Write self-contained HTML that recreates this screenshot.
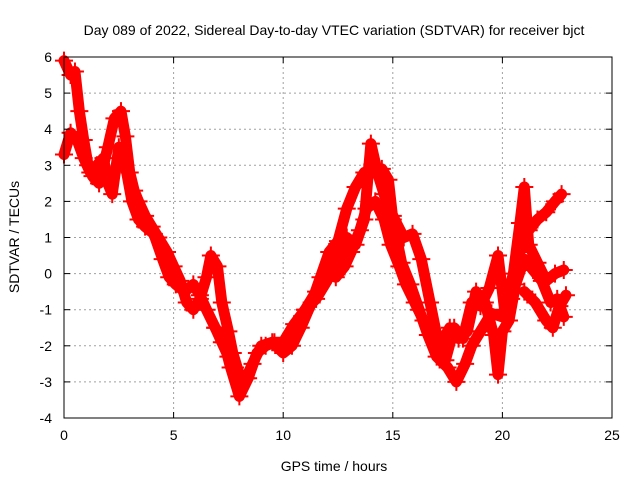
<!DOCTYPE html>
<html><head><meta charset="utf-8"><style>
body{margin:0;background:#fff;}
svg{display:block;font-family:"Liberation Sans",sans-serif;}
</style></head><body>
<svg id="chart" width="640" height="480" viewBox="0 0 640 480">
<text x="334" y="35" text-anchor="middle" font-size="14">Day 089 of 2022, Sidereal Day-to-day VTEC variation (SDTVAR) for receiver bjct</text>
<text x="334" y="471" text-anchor="middle" font-size="14">GPS time / hours</text>
<text transform="translate(19,237) rotate(-90)" text-anchor="middle" font-size="14">SDTVAR / TECUs</text>
<g id="grid"></g>
<g id="marks"></g>
<rect x="64" y="57" width="548" height="361" fill="none" stroke="#000" stroke-width="1"/>
<g id="ticks"></g>
</svg>
<script>
const xTicks=[0,5,10,15,20,25];
const yTicks=[-4,-3,-2,-1,0,1,2,3,4,5,6];
const traceA_t=[0,0.3,0.5,0.7,0.9,1.1,1.3,1.6,2.0,2.3,2.6,2.8,3.0,3.2,3.4,3.7,4.0,4.3,4.7,5.0,5.3,5.6,5.9,6.2,6.5,6.7,7.0,7.2,7.5,7.7,8.0,8.3,8.6,9.0,9.5,10.0,10.4,10.8,11.3,11.7,12.1,12.5,12.9,13.3,13.7,14.0,14.5,14.8,15.0,15.4,15.8,16.2,16.6,17.0,17.5,17.9,18.3,18.6,19.0,19.5,20.0,20.4,20.8,21.2,21.6,22.0,22.4,22.7];
const traceA_v=[5.9,5.5,5.6,4.5,3.7,3.0,2.7,2.5,3.5,4.3,4.5,3.8,2.8,2.3,2.0,1.6,1.3,1.0,0.6,0.2,-0.2,-0.8,-1.0,-0.7,-0.1,0.5,0.2,-0.8,-1.6,-2.2,-2.8,-2.9,-2.5,-2.0,-1.9,-2.2,-2.0,-1.5,-0.8,-0.1,0.6,0.9,1.8,2.4,2.8,2.8,2.9,2.6,1.5,0.3,-0.3,-1.0,-1.7,-2.3,-2.6,-3.0,-2.5,-2.0,-1.6,-1.1,-1.2,-0.7,0.6,1.2,1.5,1.7,2.0,2.2];
const traceB_t=[0,0.3,0.6,0.9,1.2,1.5,1.8,2.0,2.2,2.5,2.8,3.1,3.4,3.7,4.1,4.5,4.8,5.1,5.5,5.9,6.2,6.5,6.9,7.3,7.6,8.0,8.4,8.8,9.2,9.6,10.0,10.5,11.0,11.5,12.0,12.5,12.9,13.3,13.7,14.0,14.3,14.6,15.0,15.5,15.9,16.3,16.7,17.0,17.4,17.8,18.2,18.6,19.0,19.4,19.8,20.1,20.5,20.8,21.0,21.2,21.6,22.0,22.4,22.8];
const traceB_v=[3.3,3.9,3.7,3.2,2.8,3.0,3.2,2.5,2.2,3.5,3.0,2.0,1.5,1.3,1.1,0.4,-0.1,-0.3,-0.5,-0.3,-0.6,-1.0,-1.5,-1.9,-2.6,-3.4,-2.9,-2.2,-2.0,-1.9,-1.9,-1.4,-1.0,-0.7,-0.2,0.5,1.0,0.8,1.5,3.6,2.8,2.2,1.6,1.0,1.1,0.4,-0.8,-1.7,-2.4,-1.5,-1.8,-0.8,-0.9,-0.4,0.5,-1.0,0.0,1.4,2.4,0.8,0.3,-0.2,0.0,0.1];
const traceC_t=[11.0,11.5,12.0,12.4,12.8,13.1,13.5,13.8,14.2,14.6,14.9,15.3,15.6,16.0,16.4,16.8,17.2,17.6,18.0,18.4,18.8,19.2,19.6,19.8,20.0,20.3,20.6,21.0,21.4,21.8,22.2,22.5,22.8];
const traceC_v=[-1.0,-0.5,0.1,-0.1,0.2,0.6,1.2,1.8,2.0,1.5,0.8,0.2,-0.3,-0.8,-1.3,-1.7,-1.9,-1.5,-1.8,-1.6,-0.5,-0.8,-1.7,-2.8,-1.6,-1.3,-0.3,0.4,0.1,-0.2,-0.8,-0.7,-1.2];
const traceD_t=[21.0,21.5,22.0,22.3,22.6,22.9];
const traceD_v=[-0.5,-0.8,-1.3,-1.5,-0.9,-0.6];
const traceE_t=[6.9,7.2,7.5,7.8];
const traceE_v=[-1.5,-1.9,-2.3,-2.6];

const NS="http://www.w3.org/2000/svg";
const X0=64,X1=612,Y0=418,Y1=57;
function sx(t){return X0+(t-0)/(25-0)*(X1-X0);}
function sy(v){return Y0-(v-(-4))/(6-(-4))*(Y0-Y1);}
function mk(tag,attrs,parent){const e=document.createElementNS(NS,tag);for(const k in attrs)e.setAttribute(k,attrs[k]);parent.appendChild(e);return e;}
const grid=document.getElementById('grid'),ticks=document.getElementById('ticks'),marks=document.getElementById('marks');
xTicks.forEach(t=>{
  const x=sx(t);
  if(t>0&&t<25){const g=mk('line',{x1:x,x2:x,y1:Y1,y2:Y0,stroke:'#a0a0a0','stroke-dasharray':'2,3'},grid);
  
  }
  mk('line',{x1:x,x2:x,y1:Y0,y2:Y0-6,stroke:'#000'},ticks);
  mk('line',{x1:x,x2:x,y1:Y1,y2:Y1+6,stroke:'#000'},ticks);
  const l=mk('text',{x:x,y:Y0+22,'text-anchor':'middle','font-size':'14'},ticks);
  l.textContent=t;
  
  
});
yTicks.forEach(v=>{
  const y=sy(v);
  if(v>-4&&v<6){const g=mk('line',{x1:X0,x2:X1,y1:y,y2:y,stroke:'#a0a0a0','stroke-dasharray':'2,3'},grid);
  
  }
  mk('line',{x1:X0,x2:X0+6,y1:y,y2:y,stroke:'#000'},ticks);
  mk('line',{x1:X1,x2:X1-6,y1:y,y2:y,stroke:'#000'},ticks);
  const l=mk('text',{x:X0-12,y:y+5,'text-anchor':'end','font-size':'14'},ticks);
  l.textContent=v;
  
  
});
function drawTrace(ts,vs,name){
  const g=mk('g',{},marks);
  
  
  const pts=ts.map((t,i)=>sx(t)+','+sy(vs[i])).join(' ');
  mk('polyline',{points:pts,fill:'none',stroke:'#ff0000','stroke-width':'11','stroke-linejoin':'round','stroke-linecap':'round'},g);
  ts.forEach((t,i)=>{
    const x=sx(t),y=sy(vs[i]);
    const p=mk('path',{d:`M${x-9},${y}H${x+9}M${x},${y-9}V${y+9}`,stroke:'#ff0000','stroke-width':'2'},g);
    
    
  });
}
drawTrace(traceA_t,traceA_v,'trace-a');
drawTrace(traceB_t,traceB_v,'trace-b');
drawTrace(traceC_t,traceC_v,'trace-c');
drawTrace(traceD_t,traceD_v,'trace-d');
drawTrace(traceE_t,traceE_v,'trace-e');
</script>
</body></html>
